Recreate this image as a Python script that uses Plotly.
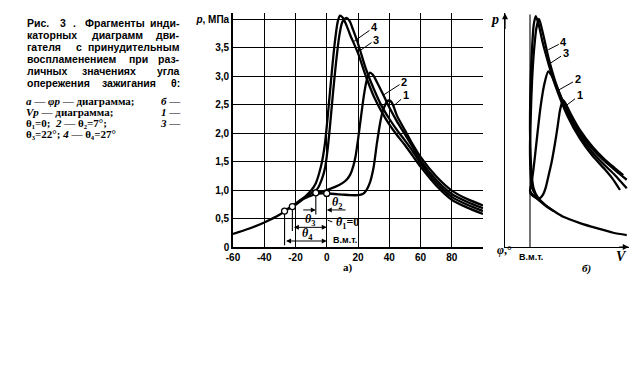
import re
import plotly.graph_objects as go

# ---------------- data: (a) phi-p diagram ----------------
phi_comp = [-60, -50, -40, -30, -27, -22, -20, -15, -10, -7, -3, 0]
p_comp = [0.23, 0.32, 0.43, 0.57, 0.63, 0.71, 0.74, 0.84, 0.90, 0.93, 0.94, 0.94]

phi_1 = [0, 5, 10, 15, 20, 23, 25, 27.5, 30, 32, 34, 35.5, 37, 38.5, 40, 41.5, 43, 45, 50, 55, 60, 70, 80, 90, 100]
p_1 = [0.94, 0.93, 0.92, 0.91, 0.91, 0.93, 0.98, 1.12, 1.4, 1.8, 2.15, 2.35, 2.47, 2.55, 2.57, 2.54, 2.45, 2.3, 2.05, 1.8, 1.58, 1.24, 0.99, 0.84, 0.73]

phi_2 = [-7, -3, 0, 5, 10, 13, 15, 17, 18.5, 20, 22, 24, 26, 27.7, 29.5, 32, 36, 40, 45, 50, 55, 60, 70, 80, 90, 100]
p_2 = [0.95, 0.97, 1.0, 1.05, 1.12, 1.19, 1.27, 1.42, 1.6, 1.88, 2.3, 2.7, 2.97, 3.06, 3.02, 2.9, 2.68, 2.45, 2.2, 1.98, 1.75, 1.52, 1.18, 0.93, 0.79, 0.68]

phi_3 = [-22, -18, -15, -10, -6, -3, -1, 0.5, 2, 4, 6, 8, 10, 12.5, 14.5, 17, 20, 25, 30, 35, 40, 45, 50, 55, 60, 70, 80, 90, 100]
p_3 = [0.71, 0.79, 0.85, 0.94, 1.02, 1.2, 1.4, 1.7, 2.1, 2.7, 3.25, 3.7, 3.95, 4.02, 3.97, 3.8, 3.57, 3.13, 2.78, 2.48, 2.25, 2.05, 1.87, 1.68, 1.47, 1.13, 0.88, 0.74, 0.63]

phi_4 = [-27, -22, -18, -14, -10, -7, -5, -3, -1, 1, 3, 5, 7, 8.5, 10, 12, 15, 20, 25, 30, 35, 40, 45, 50, 55, 60, 70, 80, 90, 100]
p_4 = [0.63, 0.72, 0.80, 0.88, 0.99, 1.12, 1.28, 1.5, 1.85, 2.4, 3.0, 3.55, 3.95, 4.06, 4.03, 3.93, 3.72, 3.4, 3.0, 2.65, 2.38, 2.15, 1.96, 1.79, 1.6, 1.41, 1.08, 0.83, 0.69, 0.58]

# ignition points (theta1..theta4) and dimension extension lines
ign_phi = [0, -7, -22, -27]
ign_p = [0.94, 0.95, 0.71, 0.63]
ext_bottom = [0.0, 0.57, 0.28, 0.03]

# axis ticks
x_ticks = [-60, -40, -20, 0, 20, 40, 60, 80, 100]
x_ticktext = ["-60", "-40", "-20", "0", "20", "40", "60", "80", ""]
y_ticks = [0, 0.5, 1.0, 1.5, 2.0, 2.5, 3.0, 3.5, 4.0]
y_ticktext = ["0", "0,5", "1,0", "1,5", "2,0", "2,5", "3,0", "3,5", "<i>p</i>, МПа"]

# curve labels (a)
lab_names = ["1", "2", "3", "4"]
lab_text_phi = [50.5, 49.5, 31.5, 30.5]
lab_text_p = [2.66, 2.9, 3.64, 3.86]
lab_tip_phi = [42.5, 36.5, 21.5, 17.0]
lab_tip_p = [2.47, 2.67, 3.45, 3.6]

# ---------------- data: (b) V-p diagram ----------------
V_comp = [4.87, 4.33, 3.67, 3.0, 2.33, 1.95, 1.67, 1.3, 1.12, 1.04, 1.0]
pV_comp = [0.21, 0.25, 0.33, 0.42, 0.53, 0.63, 0.71, 0.84, 0.91, 0.95, 0.97]

V_1 = [1.0, 1.1, 1.25, 1.4, 1.52, 1.62, 1.73, 1.87, 2.0, 2.1, 2.2, 2.28, 2.33, 2.42, 2.6, 3.0, 3.5, 4.0, 4.4, 4.73]
pV_1 = [0.95, 0.9, 0.86, 0.86, 0.92, 1.03, 1.23, 1.5, 1.82, 2.1, 2.4, 2.53, 2.57, 2.52, 2.36, 2.05, 1.76, 1.53, 1.38, 1.26]

V_2 = [1.04, 1.0, 1.04, 1.12, 1.2, 1.3, 1.42, 1.57, 1.73, 1.85, 2.0, 2.5, 3.0, 3.5, 4.0, 4.4, 4.87]
pV_2 = [0.95, 0.99, 1.08, 1.3, 1.6, 2.0, 2.45, 2.85, 3.08, 3.02, 2.88, 2.38, 2.0, 1.72, 1.5, 1.35, 1.18]

V_3 = [1.67, 1.4, 1.2, 1.08, 1.02, 1.0, 1.03, 1.08, 1.16, 1.26, 1.36, 1.5, 1.75, 2.0, 2.5, 3.0, 3.5, 4.0, 4.4, 4.87]
pV_3 = [0.71, 0.82, 0.93, 1.05, 1.35, 1.75, 2.3, 2.9, 3.45, 3.85, 4.0, 3.78, 3.3, 2.92, 2.35, 1.95, 1.66, 1.43, 1.26, 1.03]

V_4 = [1.95, 1.6, 1.3, 1.15, 1.07, 1.02, 1.0, 1.01, 1.04, 1.09, 1.15, 1.23, 1.35, 1.5, 1.75, 2.0, 2.5, 3.0, 3.5, 4.0, 4.3, 4.6]
pV_4 = [0.63, 0.74, 0.88, 1.02, 1.25, 1.65, 2.1, 2.6, 3.1, 3.55, 3.9, 4.05, 3.9, 3.6, 3.2, 2.85, 2.3, 1.9, 1.6, 1.36, 1.2, 1.0]

labV_text_V = [2.98, 2.9, 2.42, 2.35]
labV_text_p = [2.66, 2.94, 3.4, 3.6]
labV_tip_V = [2.47, 2.13, 1.8, 1.73]
labV_tip_p = [2.49, 2.75, 3.22, 3.46]

# ---------------- caption ----------------
cap1_lines = [
    "Рис. 3 . Фрагменты инди-",
    "каторных диаграмм дви-",
    "гателя с принудительным",
    "воспламенением при раз-",
    "личных значениях угла",
    "опережения зажигания θ:",
]
# paragraph 2: (left part, right-aligned part)
cap2_lines = [
    ("<i>а</i> — <i>φp</i> — диаграмма;", "<i>б</i> —"),
    ("<i>Vp</i> — диаграмма;", "<i>1</i> —"),
    ("θ₁=0;  <i>2</i> — θ₂=7°;", "<i>3</i> —"),
    ("θ₃=22°; <i>4</i> — θ₄=27°", ""),
]

# ---------------- layout helpers ----------------
OFF = 8                      # default page body margin
W, H = 640 - 2 * OFF, 372 - 2 * OFF
PPM = 57.0                   # pixels per MPa
Y0 = 247.0                   # reference pixel row of p = 0
YMAX = 4.1


def fx(px):
    return (px - OFF) / W


def fy(py):
    return 1 - (py - OFF) / H


BLACK = "black"
fig = go.Figure()

curve_style = dict(color=BLACK, width=2.3, shape="spline", smoothing=0.7)

# (a) curves
for xs, ys in [(phi_comp, p_comp), (phi_1, p_1), (phi_2, p_2), (phi_3, p_3), (phi_4, p_4)]:
    fig.add_trace(go.Scatter(x=xs, y=ys, mode="lines", line=curve_style,
                             xaxis="x", yaxis="y", hoverinfo="skip"))

# extension lines for angle dimensions
ext_x, ext_y = [], []
for ph, top, bot in zip(ign_phi[1:], ign_p[1:], ext_bottom[1:]):
    ext_x += [ph, ph, None]
    ext_y += [top, bot, None]
fig.add_trace(go.Scatter(x=ext_x, y=ext_y, mode="lines", line=dict(color=BLACK, width=1.1),
                         xaxis="x", yaxis="y", hoverinfo="skip"))

# ignition markers
fig.add_trace(go.Scatter(x=ign_phi, y=ign_p, mode="markers",
                         marker=dict(symbol="circle", size=6, color="white",
                                     line=dict(color=BLACK, width=1.3)),
                         xaxis="x", yaxis="y", hoverinfo="skip", cliponaxis=False))

# (b) curves
for xs, ys in [(V_comp, pV_comp), (V_1, pV_1), (V_2, pV_2), (V_3, pV_3), (V_4, pV_4)]:
    fig.add_trace(go.Scatter(x=xs, y=ys, mode="lines", line=curve_style,
                             xaxis="x2", yaxis="y2", hoverinfo="skip"))

# TDC line in (b)
fig.add_trace(go.Scatter(x=[1.0, 1.0], y=[0, 4.08], mode="lines",
                         line=dict(color=BLACK, width=1.1),
                         xaxis="x2", yaxis="y2", hoverinfo="skip"))

tick_font = dict(family="Liberation Sans", size=10, color=BLACK, weight="bold")

fig.update_layout(
    width=W, height=H,
    margin=dict(l=0, r=0, t=0, b=0, autoexpand=False),
    paper_bgcolor="white", plot_bgcolor="white",
    showlegend=False,
    xaxis=dict(domain=[fx(233), fx(483)], range=[-60, 100],
               tickvals=x_ticks, ticktext=x_ticktext, tickfont=tick_font,
               showgrid=True, gridcolor=BLACK, gridwidth=1.2,
               showline=True, linecolor=BLACK, linewidth=1.6,
               zeroline=False, ticks="", anchor="y", automargin=False),
    yaxis=dict(domain=[fy(Y0), fy(Y0 - YMAX * PPM)], range=[0, YMAX],
               tickvals=y_ticks, ticktext=y_ticktext, tickfont=tick_font,
               showgrid=True, gridcolor=BLACK, gridwidth=1.2,
               showline=True, linecolor=BLACK, linewidth=1.6,
               zeroline=False, ticks="", anchor="x", automargin=False),
    xaxis2=dict(domain=[fx(505), fx(505 + 4.95 * 25)], range=[0, 4.95],
                showgrid=False, showline=True, linecolor=BLACK, linewidth=1.2,
                zeroline=False, showticklabels=False, ticks="", anchor="y2",
                automargin=False),
    yaxis2=dict(domain=[fy(Y0), fy(Y0 - YMAX * PPM)], range=[0, YMAX],
                showgrid=False, showline=True, linecolor=BLACK, linewidth=1.2,
                zeroline=False, showticklabels=False, ticks="", anchor="x2",
                automargin=False),
)

ann = []
lab_font = dict(family="Liberation Sans", size=11, color=BLACK, weight="bold")

# curve labels (a)
for n, tx, ty, px_, py_ in zip(lab_names, lab_text_phi, lab_text_p, lab_tip_phi, lab_tip_p):
    ann.append(dict(text=n, x=px_, y=py_, ax=tx, ay=ty, xref="x", yref="y",
                    axref="x", ayref="y", showarrow=True, arrowhead=0,
                    arrowwidth=1, arrowcolor=BLACK, font=lab_font))
# curve labels (b)
for n, tx, ty, px_, py_ in zip(lab_names, labV_text_V, labV_text_p, labV_tip_V, labV_tip_p):
    ann.append(dict(text=n, x=px_, y=py_, ax=tx, ay=ty, xref="x2", yref="y2",
                    axref="x2", ayref="y2", showarrow=True, arrowhead=0,
                    arrowwidth=1, arrowcolor=BLACK, font=lab_font))

# angle dimension arrows
dim_kw = dict(text="", xref="x", yref="y", axref="x", ayref="y", showarrow=True,
              arrowhead=2, arrowsize=1, arrowwidth=1, arrowcolor=BLACK, standoff=0)
ann.append(dict(x=-7, y=0.65, ax=-16, ay=0.65, **dim_kw))
ann.append(dict(x=0, y=0.65, ax=13, ay=0.65, **dim_kw))
ann.append(dict(x=0, y=0.345, ax=-22, ay=0.345, arrowside="end+start", **dim_kw))
ann.append(dict(x=0, y=0.105, ax=-27, ay=0.105, arrowside="end+start", **dim_kw))

th_font = dict(family="Liberation Serif", size=12, color=BLACK, weight="bold")
for t, x, y in [("<i>θ</i><sub>2</sub>", 6.5, 0.78), ("<i>θ</i><sub>3</sub>", -11, 0.47),
                ("<i>θ</i><sub>4</sub>", -12.5, 0.22)]:
    ann.append(dict(text=t, x=x, y=y, xref="x", yref="y", xanchor="center",
                    yanchor="middle", showarrow=False, font=th_font))
ann.append(dict(text="<i>θ</i><sub>1</sub>=0", x=4.5, y=0.42, xref="x", yref="y",
                xanchor="left", yanchor="middle", showarrow=False, font=th_font))
ann.append(dict(text="", x=0.6, y=0.47, ax=4.5, ay=0.43, xref="x", yref="y",
                axref="x", ayref="y", showarrow=True, arrowhead=0, arrowwidth=1,
                arrowcolor=BLACK))
small_font = dict(family="Liberation Sans", size=9, color=BLACK, weight="bold")
ann.append(dict(text="В.м.т.", x=3, y=0.12, xref="x", yref="y", xanchor="left",
                yanchor="middle", showarrow=False, font=small_font))

# arrowheads for the axes of (b)
ax_kw = dict(text="", xref="x2", yref="y2", axref="x2", ayref="y2", showarrow=True,
             arrowhead=2, arrowsize=1, arrowwidth=1.2, arrowcolor=BLACK, standoff=0)
ann.append(dict(x=0, y=4.1, ax=0, ay=3.8, **ax_kw))
ann.append(dict(x=4.95, y=0, ax=4.5, ay=0, **ax_kw))


def paper_text(text, px, py, font, xanchor="center", pad=1):
    ann.append(dict(text=text, x=fx(px), y=fy(py), xref="paper", yref="paper",
                    xanchor=xanchor, yanchor="middle", showarrow=False, font=font,
                    borderpad=pad))


it_font = dict(family="Liberation Serif", size=14, color=BLACK, weight="bold")
serif11 = dict(family="Liberation Serif", size=11, color=BLACK, weight="bold")
paper_text("<i>p</i>", 495, 20, it_font)
paper_text("<i>V</i>", 621, 256, it_font)
paper_text("В.м.т.", 531, 257, small_font)
paper_text("<i>б)</i>", 586, 268, serif11)
paper_text("а)", 348, 267, serif11)
paper_text("<i>φ</i>,°", 505, 250, dict(family="Liberation Serif", size=12, color=BLACK, weight="bold"))


# caption: paragraph 1 justified by word placement
def plain_len(s):
    s = re.sub(r"<[^>]+>", "", s)
    return len(s)


XL, XR = 25.0, 182.0
cap_font1 = dict(family="Liberation Sans", size=10.5, color=BLACK, weight="bold")
CW1 = 6.6
for i, line in enumerate(cap1_lines):
    y = 23.5 + i * 11.8
    words = line.split(" ")
    widths = [plain_len(w) * CW1 for w in words]
    gap = (XR - XL - sum(widths)) / (len(words) - 1)
    xpos = XL
    for j, w in enumerate(words):
        if j == len(words) - 1:
            paper_text(w, XR, y, cap_font1, xanchor="right")
        else:
            paper_text(w, xpos, y, cap_font1, xanchor="left")
        xpos += widths[j] + gap

# caption: paragraph 2 (left part + right-aligned tail)
cap_font2 = dict(family="Liberation Serif", size=11, color=BLACK, weight="bold")
for i, (left, right) in enumerate(cap2_lines):
    y = 100.5 + i * 11.3
    paper_text(left, XL, y, cap_font2, xanchor="left", pad=0)
    if right:
        paper_text(right, XR, y, cap_font2, xanchor="right", pad=0)

fig.update_layout(annotations=ann)
fig.write_html("out.html")
